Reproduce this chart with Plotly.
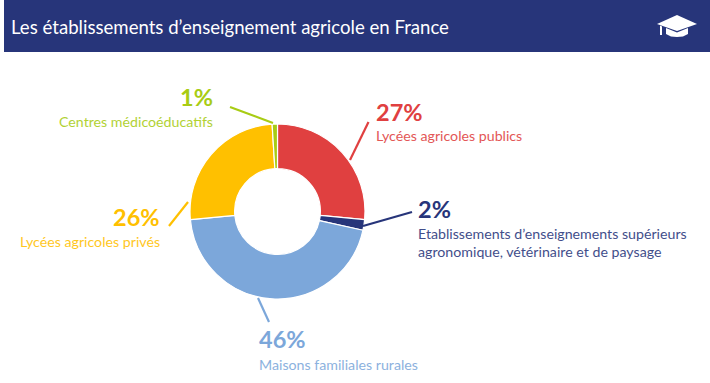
import plotly.graph_objects as go

W, H = 710, 383
categories = ["Lycées agricoles publics",
              "Etablissements d’enseignements supérieurs<br>agronomique, vétérinaire et de paysage",
              "Maisons familiales rurales",
              "Lycées agricoles privés",
              "Centres médicoéducatifs"]
values = [27, 2, 46, 26, 1]
colors = ["#E04040", "#27357A", "#7CA7DA", "#FFC000", "#A8CC14"]
title_text = "Les établissements d’enseignement agricole en France"
FONT = "Lato"

def X(x): return x / W
def Y(y): return 1 - y / H

cx, cy, r = 277.5, 211.5, 87.5
fig = go.Figure(go.Pie(
    values=values, labels=categories, sort=False, direction="clockwise", rotation=0,
    hole=0.49, textinfo="none", hoverinfo="label+percent",
    marker=dict(colors=colors, line=dict(color="white", width=1.2)),
    domain=dict(x=[X(cx - r), X(cx + r)], y=[Y(cy + r), Y(cy - r)]),
))

# label anchor: (x, pct y, name y, xanchor)
pos = [(375, 112, 135, "left"), (417, 209, 243, "left"), (258, 339, 364, "left"),
       (161, 217, 241, "right"), (214, 97, 121, "right")]
ann = []
for v, c, col, (x, y1, y2, a) in zip(values, categories, colors, pos):
    ann.append(dict(x=X(x), y=Y(y1), xref="paper", yref="paper", text=f"{v}%", showarrow=False,
                    xanchor=a, yanchor="middle", borderpad=0,
                    font=dict(family=FONT, size=23.5, color=col, weight=700)))
    ann.append(dict(x=X(x), y=Y(y2), xref="paper", yref="paper", text=c, showarrow=False,
                    xanchor=a, yanchor="middle", align=a, borderpad=0,
                    font=dict(family=FONT, size=14.2, color=col), opacity=0.88))
ann.append(dict(x=X(10), y=Y(27), xref="paper", yref="paper", text=title_text, showarrow=False,
                xanchor="left", yanchor="middle", borderpad=0,
                font=dict(family=FONT, size=18.6, color="white")))

shapes = [dict(type="rect", xref="paper", yref="paper", x0=X(4), x1=1, y0=Y(52), y1=1,
               fillcolor="#27357A", line_width=0, layer="below")]
leaders = [((368.5, 122), (350, 160), colors[0]), ((412, 212), (363, 226), colors[1]),
           ((258, 298), (269, 322), colors[2]), ((188, 202), (169, 226), colors[3]),
           ((230, 107), (273, 123), colors[4])]
for (a, b, col) in leaders:
    shapes.append(dict(type="line", xref="paper", yref="paper", x0=X(a[0]), y0=Y(a[1]),
                       x1=X(b[0]), y1=Y(b[1]), line=dict(color=col, width=2.2)))

def path(pts):
    return "M" + " L".join(f"{X(x):.5f},{Y(y):.5f}" for x, y in pts) + " Z"
# graduation cap: board, bowl, tassel
for pts in ([(657, 24), (677, 15), (697, 24), (677, 31)],
            [(666, 28), (677, 32.5), (688, 28), (688, 34), (683, 36.5), (677, 37), (671, 36.5), (666, 34)],
            [(660, 25.5), (662, 26.5), (662, 35), (660, 35)]):
    shapes.append(dict(type="path", xref="paper", yref="paper", path=path(pts),
                       fillcolor="white", line_width=0))

fig.update_layout(width=W, height=H, margin=dict(l=0, r=0, t=0, b=0), showlegend=False,
                  paper_bgcolor="white", annotations=ann, shapes=shapes)
fig.write_html("out.html", config=dict(displayModeBar=False),
               post_script="document.body.style.margin='0';document.body.style.overflow='hidden';")
